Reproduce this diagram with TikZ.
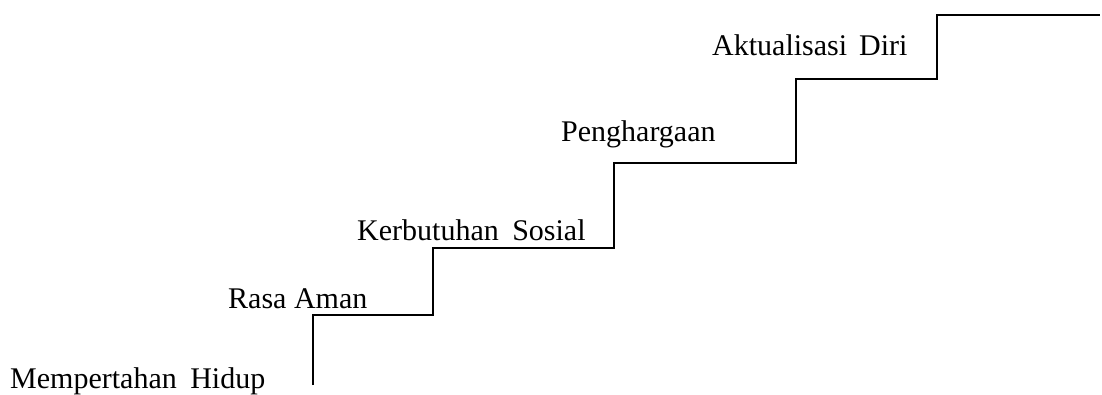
\documentclass[tikz,border=0pt]{standalone}
\usepackage{fontspec}
\setmainfont{Liberation Serif}
\begin{document}
\begin{tikzpicture}[x=1pt,y=1pt,
  lbl/.style={anchor=base west,inner sep=0pt,font=\fontsize{30}{32}\selectfont},
  stair/.style={line width=1.6pt,line cap=butt}]
\useasboundingbox (0,0) rectangle (1102,394);
% labels (y = 394 - pixel y)
\node[lbl] (t1) at (10,6) {Mempertahan\hspace{0.45em}Hidup};
\node[lbl] (t2) at (228,86) {Rasa Aman};
\node[lbl] (t3) at (357,154) {Kerbutuhan\hspace{0.45em}Sosial};
\node[lbl] (t4) at (561,252) {Penghargaan};
\node[lbl] (t5) at (712,338) {Aktualisasi\hspace{0.4em}Diri};
% stair corners
\coordinate (a0) at (313,9);
\coordinate (a1) at (313,79);
\coordinate (a2) at (433,79);
\coordinate (a3) at (433,146);
\coordinate (a4) at (614,146);
\coordinate (a5) at (614,231);
\coordinate (a6) at (796,231);
\coordinate (a7) at (796,315);
\coordinate (a8) at (937,315);
\coordinate (a9) at (937,379);
\coordinate (a10) at (1100,379);
\draw[stair] (a0) -- (a1) -- (a2) -- (a3) -- (a4) -- (a5) -- (a6) -- (a7) -- (a8) -- (a9) -- (a10);
\end{tikzpicture}
\end{document}
